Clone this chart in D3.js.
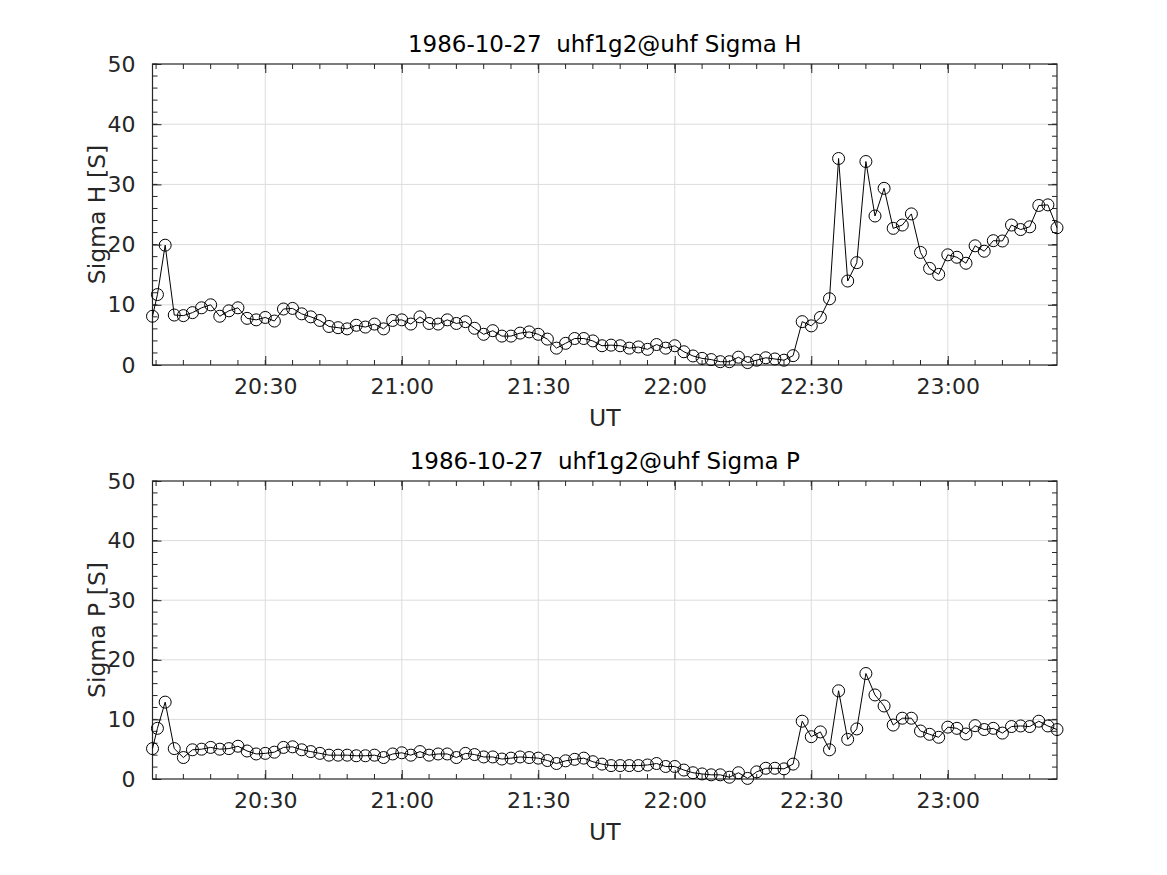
<!DOCTYPE html>
<html lang="en">
<head>
<meta charset="UTF-8">
<title>Sigma H / Sigma P</title>
<style>
  body { margin: 0; background: #fff; }
  svg { font-family: 'DejaVu Sans', sans-serif; }
  svg text { white-space: pre; }
  .tick text { fill: #262626; }
  .grid line { stroke: #dcdcdc; stroke-width: 1; }
</style>
</head>
<body>
<div id="chart"></div>
<script src="https://cdnjs.cloudflare.com/ajax/libs/d3/7.8.5/d3.min.js"></script>
<script>
// sample times (UT)
const times = [
  "20:05:13", "20:06:18",
  "20:08", "20:10", "20:12", "20:14", "20:16", "20:18", "20:20", "20:22", "20:24", "20:26", "20:28",
  "20:30", "20:32", "20:34", "20:36", "20:38", "20:40", "20:42", "20:44", "20:46", "20:48", "20:50",
  "20:52", "20:54", "20:56", "20:58",
  "21:00", "21:02", "21:04", "21:06", "21:08", "21:10", "21:12", "21:14", "21:16", "21:18", "21:20",
  "21:22", "21:24", "21:26", "21:28", "21:30", "21:32", "21:34", "21:36", "21:38", "21:40", "21:42",
  "21:44", "21:46", "21:48", "21:50", "21:52", "21:54", "21:56", "21:58",
  "22:00", "22:02", "22:04", "22:06", "22:08", "22:10", "22:12", "22:14", "22:16", "22:18", "22:20",
  "22:22", "22:24", "22:26", "22:28", "22:30", "22:32", "22:34", "22:36", "22:38", "22:40", "22:42",
  "22:44", "22:46", "22:48", "22:50", "22:52", "22:54", "22:56", "22:58",
  "23:00", "23:02", "23:04", "23:06", "23:08", "23:10", "23:12", "23:14", "23:16", "23:18", "23:20",
  "23:22", "23:24"
];

// Hall conductance [S]
const sigmaH = [
  8.1, 11.7, 19.9, 8.3, 8.2, 8.7, 9.5, 10.0, 8.1, 9.0, 9.5, 7.75, 7.5,
  7.9, 7.3, 9.3, 9.4, 8.5, 8.0, 7.4, 6.4, 6.2, 6.0, 6.6, 6.3, 6.8, 6.0,
  7.4, 7.5, 6.8, 8.0, 6.9, 6.8, 7.5, 6.9, 7.2, 6.1, 5.1, 5.7, 4.8, 4.8,
  5.3, 5.5, 5.1, 4.3, 2.8, 3.6, 4.4, 4.4, 4.0, 3.2, 3.3, 3.2, 2.8, 3.0,
  2.6, 3.4, 2.8, 3.2, 2.2, 1.5, 1.1, 0.9, 0.55, 0.55, 1.3, 0.4, 0.8, 1.2,
  1.0, 0.8, 1.55, 7.2, 6.5, 7.9, 11.0, 34.3, 13.95, 17.0, 33.8, 24.75, 29.35,
  22.7, 23.25, 25.1, 18.7, 16.05, 15.05, 18.3, 17.9, 16.9, 19.8, 18.9, 20.65,
  20.6, 23.25, 22.5, 22.95, 26.5, 26.6, 22.8
];

// Pedersen conductance [S]
const sigmaP = [
  5.1, 8.5, 12.9, 5.1, 3.6, 4.9, 5.0, 5.3, 5.0, 5.1, 5.5, 4.7, 4.2,
  4.3, 4.5, 5.3, 5.4, 4.9, 4.6, 4.3, 4.0, 4.0, 4.0, 3.9, 3.9, 4.0, 3.6,
  4.2, 4.4, 4.0, 4.6, 4.0, 4.2, 4.2, 3.6, 4.3, 4.1, 3.7, 3.7, 3.35, 3.5,
  3.7, 3.6, 3.5, 3.1, 2.6, 3.05, 3.3, 3.5, 2.9, 2.5, 2.25, 2.25, 2.25, 2.25,
  2.35, 2.6, 2.1, 2.1, 1.5, 1.05, 0.85, 0.7, 0.7, 0.3, 1.05, 0.1, 1.2, 1.8,
  1.8, 1.7, 2.5, 9.7, 7.1, 7.9, 4.9, 14.8, 6.65, 8.4, 17.7, 14.1, 12.25,
  9.05, 10.2, 10.2, 8.05, 7.5, 7.0, 8.7, 8.5, 7.55, 8.95, 8.3, 8.5,
  7.7, 8.8, 8.9, 8.8, 9.7, 8.9, 8.3
];

const yTicks = [0, 10, 20, 30, 40, 50];
const dateStr = "1986-10-27";

const W = 1167, H = 875;
const left = 152.5, right = 1057;
const font = "'DejaVu Sans', sans-serif";
const panels = [
  { title: dateStr + "  uhf1g2@uhf Sigma H", ylabel: "Sigma H [S]", values: sigmaH, top: 64, bottom: 365 },
  { title: dateStr + "  uhf1g2@uhf Sigma P", ylabel: "Sigma P [S]", values: sigmaP, top: 481, bottom: 779 }
];

const parse = s => d3.utcParse("%Y-%m-%d %H:%M:%S")(dateStr + " " + (s.length === 5 ? s + ":00" : s));
const dates = times.map(parse);

const svg = d3.select('#chart').append('svg')
  .attr('width', W)
  .attr('height', H);

const x = d3.scaleUtc()
  .domain(d3.extent(dates))
  .range([left, right]);

const majorX = d3.utcMinute.every(30).range(x.domain()[0], x.domain()[1]);
const minorX = d3.utcMinute.every(6).range(x.domain()[0], x.domain()[1]);
const axisColor = '#262626';

panels.forEach(function (p) {
  const y = d3.scaleLinear().domain([0, 50]).range([p.bottom, p.top]);
  const minorY = d3.range(0, 50.01, 2);
  const g = svg.append('g');

  // grid
  const grid = g.append('g').attr('class', 'grid');
  grid.selectAll('.gx').data(majorX).enter().append('line')
    .attr('x1', d => x(d)).attr('x2', d => x(d))
    .attr('y1', p.top).attr('y2', p.bottom);
  grid.selectAll('.gy').data(yTicks.slice(1, -1)).enter().append('line')
    .attr('x1', left).attr('x2', right)
    .attr('y1', d => y(d)).attr('y2', d => y(d));

  // axes, ticks pointing inward
  g.append('g')
    .attr('transform', 'translate(0,' + p.bottom + ')')
    .call(d3.axisBottom(x).tickValues(majorX).tickFormat(d3.utcFormat('%H:%M')).tickSizeInner(-9).tickSizeOuter(0).tickPadding(13))
    .attr('font-family', font).attr('font-size', 22)
    .call(a => a.select('.domain').remove());
  g.append('g')
    .attr('transform', 'translate(0,' + p.top + ')')
    .call(d3.axisTop(x).tickValues(majorX).tickFormat('').tickSizeInner(-9).tickSizeOuter(0))
    .call(a => a.select('.domain').remove());
  g.append('g')
    .attr('transform', 'translate(' + left + ',0)')
    .call(d3.axisLeft(y).tickValues(yTicks).tickSizeInner(-9).tickSizeOuter(0).tickPadding(17))
    .attr('font-family', font).attr('font-size', 22)
    .call(a => a.select('.domain').remove());
  g.append('g')
    .attr('transform', 'translate(' + right + ',0)')
    .call(d3.axisRight(y).tickValues(yTicks).tickFormat('').tickSizeInner(-9).tickSizeOuter(0))
    .call(a => a.select('.domain').remove());

  // minor ticks
  const minor = g.append('g').attr('stroke', axisColor);
  minorX.forEach(function (d) {
    minor.append('line').attr('x1', x(d)).attr('x2', x(d)).attr('y1', p.bottom).attr('y2', p.bottom - 5);
    minor.append('line').attr('x1', x(d)).attr('x2', x(d)).attr('y1', p.top).attr('y2', p.top + 5);
  });
  minorY.forEach(function (d) {
    minor.append('line').attr('x1', left).attr('x2', left + 5).attr('y1', y(d)).attr('y2', y(d));
    minor.append('line').attr('x1', right).attr('x2', right - 5).attr('y1', y(d)).attr('y2', y(d));
  });
  g.selectAll('.tick line').attr('stroke', axisColor);

  // box
  g.append('rect')
    .attr('x', left).attr('y', p.top)
    .attr('width', right - left).attr('height', p.bottom - p.top)
    .attr('fill', 'none').attr('stroke', axisColor).attr('stroke-width', 1.2);

  // data
  const pts = dates.map((d, i) => [d, p.values[i]]);
  g.append('path')
    .datum(pts)
    .attr('fill', 'none')
    .attr('stroke', '#000')
    .attr('stroke-width', 1)
    .attr('d', d3.line().x(d => x(d[0])).y(d => y(d[1])));
  g.selectAll('.mk').data(pts).enter().append('circle')
    .attr('cx', d => x(d[0]))
    .attr('cy', d => y(d[1]))
    .attr('r', 6)
    .attr('fill', 'none')
    .attr('stroke', '#000')
    .attr('stroke-width', 1);

  // labels
  g.append('text')
    .attr('x', (left + right) / 2).attr('y', p.top - 12)
    .attr('text-anchor', 'middle').attr('font-size', 23).attr('fill', '#000')
    .text(p.title);
  g.append('text')
    .attr('x', (left + right) / 2).attr('y', p.bottom + 61)
    .attr('text-anchor', 'middle').attr('font-size', 23.5).attr('fill', axisColor)
    .text('UT');
  g.append('text')
    .attr('transform', 'translate(105,' + ((p.top + p.bottom) / 2) + ') rotate(-90)')
    .attr('text-anchor', 'middle').attr('font-size', 23.5).attr('fill', axisColor)
    .text(p.ylabel);
});
</script>
</body>
</html>
